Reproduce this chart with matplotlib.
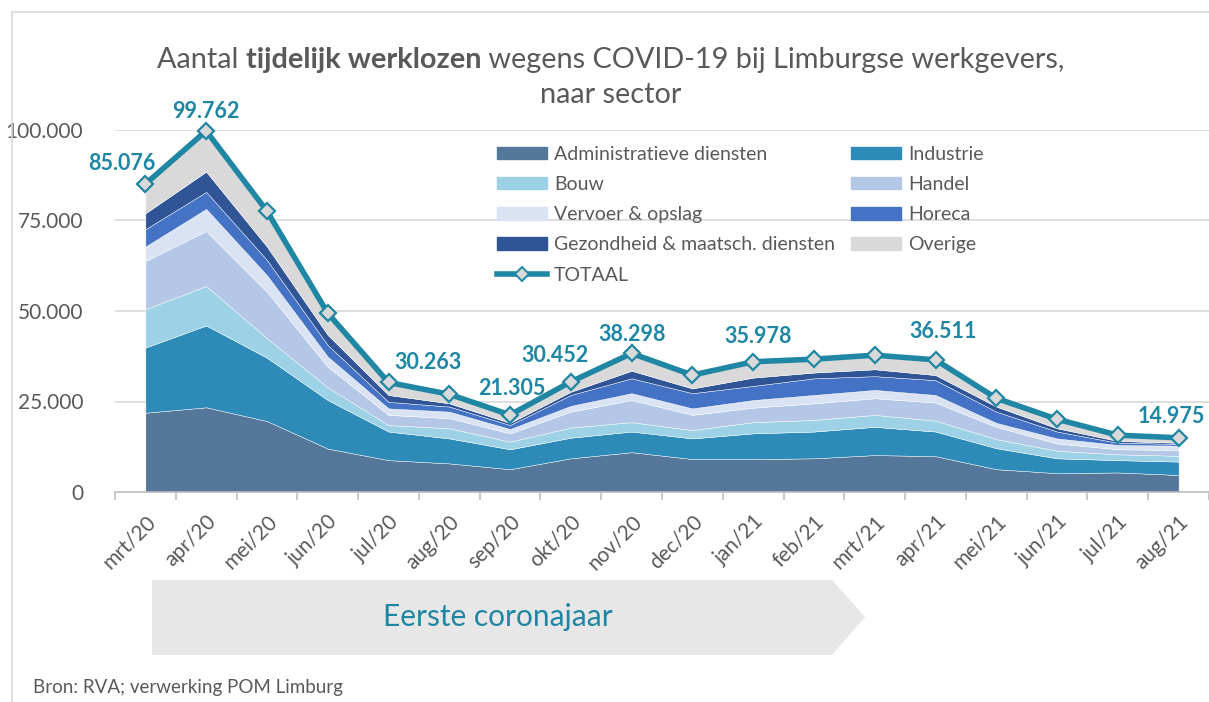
import matplotlib
matplotlib.use("Agg")
import matplotlib.pyplot as plt
from matplotlib.patches import Patch, Polygon, Rectangle
from matplotlib.lines import Line2D
import numpy as np

plt.rcParams['font.family'] = ['Lato', 'DejaVu Sans']

months = ["mrt/20", "apr/20", "mei/20", "jun/20", "jul/20", "aug/20", "sep/20", "okt/20",
          "nov/20", "dec/20", "jan/21", "feb/21", "mrt/21", "apr/21", "mei/21", "jun/21",
          "jul/21", "aug/21"]

admin = [21900, 23400, 19600, 12000, 8800, 7900, 6300, 9300, 11000, 9100, 9100, 9300, 10200, 9900, 6300, 5200, 5400, 4700]
industrie = [18000, 22600, 17500, 13400, 7900, 6900, 5500, 5700, 5700, 5700, 7100, 7400, 7800, 6800, 5800, 4100, 3400, 3700]
bouw = [10600, 10900, 5400, 3500, 1800, 2800, 2100, 2800, 2600, 2300, 3100, 3200, 3300, 3000, 2500, 2100, 1600, 1600]
handel = [13300, 15200, 12800, 5700, 2800, 2800, 2300, 4400, 6100, 4200, 4000, 4600, 4600, 5000, 3400, 2000, 1400, 1600]
vervoer = [4000, 6100, 4600, 2800, 1800, 1800, 1200, 1600, 1900, 1800, 2100, 2300, 2300, 2100, 1100, 1400, 1200, 1200]
horeca = [4800, 4700, 4200, 3200, 1800, 1400, 1100, 3000, 4100, 4200, 3900, 4600, 3800, 4100, 3100, 1900, 600, 500]
gezondheid = [4400, 5600, 3700, 2800, 1900, 900, 600, 900, 2100, 1300, 2300, 1600, 1900, 1400, 1400, 900, 500, 300]
overige = [8076, 11262, 9800, 6000, 3463, 2500, 2205, 2752, 4798, 3700, 4378, 3700, 3900, 4211, 2300, 2500, 1600, 1375]
totaal = [85076, 99762, 77600, 49400, 30263, 27000, 21305, 30452, 38298, 32300, 35978, 36700, 37800, 36511, 25900, 20100, 15700, 14975]

sectors = ["Administratieve diensten", "Industrie", "Bouw", "Handel", "Vervoer & opslag",
           "Horeca", "Gezondheid & maatsch. diensten", "Overige"]
colors = ["#557799", "#2E8BB8", "#9DD2E6", "#B4C7E7", "#DAE3F3", "#4472C4", "#2F5597", "#D9D9D9"]

# which totals get a label, with offset in px (dx, dy)
label_idx = [0, 1, 4, 6, 7, 8, 10, 13, 17]
label_off = [(-24, 21), (0, 19), (40, 20), (2, 26), (-16, 26), (0, 19), (5, 25), (8, 28), (-7, 21)]

TEAL = "#1F86A3"
GREY = "#595959"

W, H = 1209, 702
fig = plt.figure(figsize=(W / 100, H / 100), dpi=100)


def fx(px):
    return px / W


def fy(py):
    return 1 - py / H


# outer frame (only left and top edges are visible)
fig.add_artist(Rectangle((fx(12), fy(760)), fx(1300), 748 / H,
                         transform=fig.transFigure, fill=False, ec="#D9D9D9", lw=1.2))

ax = fig.add_axes([fx(115), fy(492), fx(1094), 362 / H])
x = np.arange(len(months))
stack = [admin, industrie, bouw, handel, vervoer, horeca, gezondheid, overige]
ax.stackplot(x, stack, colors=colors, edgecolor="white", linewidth=0.3, zorder=2)
ax.plot(x, totaal, color=TEAL, lw=4, marker="D", ms=8, mfc="#D9D9D9", mec=TEAL, mew=1.6,
        clip_on=False, zorder=4)

for i, (dx, dy) in zip(label_idx, label_off):
    ax.annotate(f"{totaal[i]:,}".replace(",", "."), (x[i], totaal[i]), xytext=(dx, dy),
                textcoords="offset pixels", ha="center", va="center", color=TEAL,
                fontsize=15.5, fontweight="bold", zorder=5, annotation_clip=False)

ax.set_xlim(-0.5, 17.5)
ax.set_ylim(0, 100000)
ax.set_yticks([0, 25000, 50000, 75000, 100000])
ax.set_yticklabels(["0", "25.000", "50.000", "75.000", "100.000"])
ax.yaxis.grid(True, color="#D9D9D9", lw=1.2, zorder=0)
ax.set_axisbelow(True)
ax.tick_params(axis="y", length=0, pad=23, labelsize=15, labelcolor=GREY)
for s in ["top", "right", "left"]:
    ax.spines[s].set_visible(False)
ax.spines["bottom"].set_color("#BFBFBF")
ax.spines["bottom"].set_linewidth(1.2)
ax.set_xticks(np.arange(-0.5, 18, 1))
ax.set_xticklabels([])
ax.tick_params(axis="x", length=6, color="#BFBFBF", width=1.2)
ax.set_xticks(x, minor=True)
ax.set_xticklabels(months, minor=True, rotation=45, ha="right", va="top",
                   rotation_mode="anchor", fontsize=15, color=GREY)
ax.tick_params(axis="x", which="minor", length=0, pad=14)

# title, part bold
renderer = fig.canvas.get_renderer()
parts = [("Aantal ", "normal"), ("tijdelijk werklozen", "bold"),
         (" wegens COVID-19 bij Limburgse werkgevers,", "normal")]
tsize = 20.8
widths = []
for txt, w in parts:
    t = fig.text(0, 0, txt, fontsize=tsize, fontweight=w)
    widths.append(t.get_window_extent(renderer).width)
    t.remove()
xpos = 611 - sum(widths) / 2
for (txt, w), wd in zip(parts, widths):
    fig.text(fx(xpos), fy(60), txt, fontsize=tsize, fontweight=w, color=GREY, va="center")
    xpos += wd
fig.text(fx(611), fy(95), "naar sector", fontsize=tsize, color=GREY, ha="center", va="center")

# legend
handles = [Patch(color=c) for c in colors]
tot_handle = Line2D([], [], color=TEAL, lw=4, marker="D", ms=7, mfc="#D9D9D9", mec=TEAL, mew=1.4)
order = [0, 2, 4, 6]
hs = [handles[i] for i in order] + [tot_handle] + [handles[i] for i in [1, 3, 5, 7]]
ls = [sectors[i] for i in order] + ["TOTAAL"] + [sectors[i] for i in [1, 3, 5, 7]]
fig.legend(hs, ls, loc="upper left", bbox_to_anchor=(fx(487), fy(136)), ncol=2, frameon=False,
           fontsize=14, labelcolor=GREY, handlelength=2.6, handleheight=0.62, handletextpad=0.35,
           labelspacing=0.68, columnspacing=0.8, borderpad=0)

# "Eerste coronajaar" arrow
arrow = Polygon([(fx(152), fy(580)), (fx(832), fy(580)), (fx(865), fy(617)),
                 (fx(832), fy(655)), (fx(152), fy(655))], closed=True,
                transform=fig.transFigure, fc="#E7E7E7", ec="none")
fig.add_artist(arrow)
fig.text(fx(498), fy(617), "Eerste coronajaar", fontsize=21.5, color=TEAL, ha="center", va="center")

fig.text(fx(33), fy(687), "Bron: RVA; verwerking POM Limburg", fontsize=13.5, color=GREY, va="center")

fig.savefig("out.png", dpi=100)
